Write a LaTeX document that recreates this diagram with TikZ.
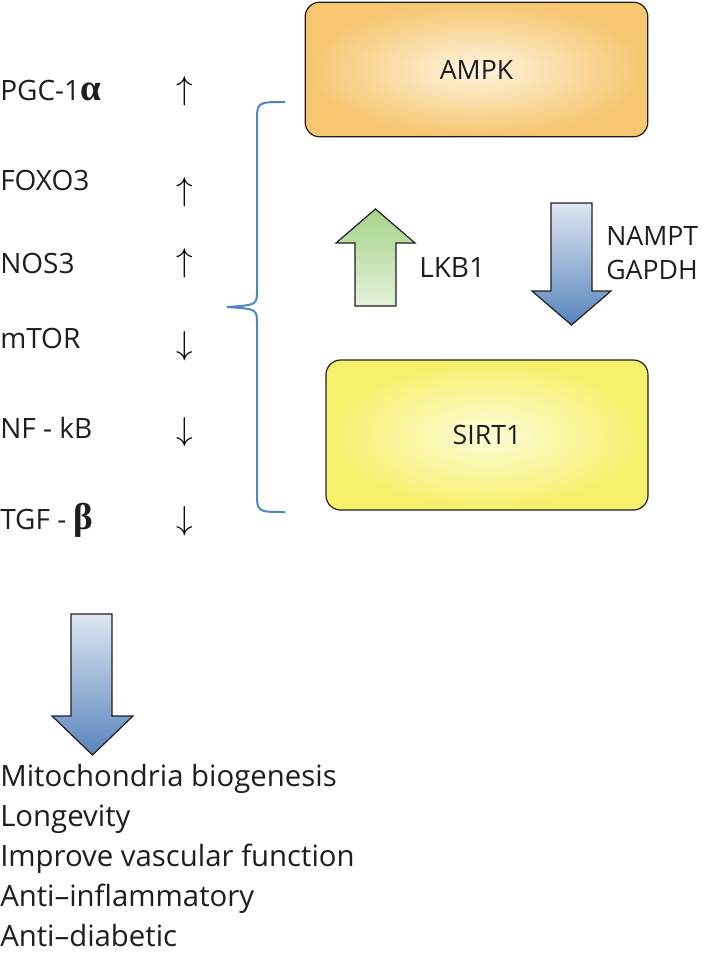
\documentclass[tikz,border=0pt]{standalone}
\usepackage{amsmath}
\usepackage{amssymb}
\usepackage{fontspec}
\setmainfont{Open Sans}
\newfontfamily\greekfont{Liberation Serif}
\usepackage{tikz}

\definecolor{ampkout}{RGB}{246,198,112}
\definecolor{ampkin}{RGB}{254,244,222}
\definecolor{sirtout}{RGB}{247,240,106}
\definecolor{sirtin}{RGB}{253,252,216}
\definecolor{greentop}{RGB}{165,211,138}
\definecolor{greenbot}{RGB}{228,242,216}
\definecolor{bluetop}{RGB}{222,230,241}
\definecolor{bluebot}{RGB}{88,133,188}
\definecolor{bracecol}{RGB}{79,134,198}
\definecolor{textcol}{RGB}{30,30,30}

\newcommand{\grk}[1]{{\greekfont\bfseries\fontsize{28}{30}\selectfont #1}}

\tikzset{
	enzbox/.style={draw={rgb,255:red,30;green,30;blue,30}, line width=0.9pt, rounded corners=11pt, inner sep=0pt, font=\fontsize{20}{24}\selectfont, text=textcol},
	gene/.style={anchor=west, inner sep=0pt, font=\fontsize{21}{25}\selectfont, text=textcol},
	trend/.style={inner sep=0pt, font=\fontsize{29}{32}\selectfont},
	blockarrow/.style={draw={rgb,255:red,30;green,30;blue,30}, line width=0.9pt, line join=miter}
}

\begin{document}
\begin{tikzpicture}[x=0.75pt,y=0.75pt,yscale=-1,xscale=1]
	\useasboundingbox (0,0) rectangle (709,958);
	
	%Shape: Rounded Rectangle [AMPK]
	\node (ampk) [enzbox, inner color=ampkin, outer color=ampkout, minimum width=257pt, minimum height=101pt] at (476.5,69.5) {AMPK};
	%Shape: Rounded Rectangle [SIRT1]
	\node (sirt) [enzbox, inner color=sirtin, outer color=sirtout, minimum width=241.5pt, minimum height=112.5pt] at (487,435) {SIRT1};
	
	%Up Arrow [LKB1]
	\shade [blockarrow, top color=greentop, bottom color=greenbot] (355,306) -- (355,243) -- (336,243) -- (375.5,209) -- (415,243) -- (396,243) -- (396,306) -- cycle ;
	%Down Arrow [NAMPT]
	\shade [blockarrow, top color=bluetop, bottom color=bluebot] (551,203) -- (592,203) -- (592,291) -- (611,291) -- (571.5,325) -- (532,291) -- (551,291) -- cycle ;
	%Down Arrow [outcome]
	\shade [blockarrow, top color=bluetop, bottom color=bluebot] (71,614) -- (112,614) -- (112,716) -- (133,716) -- (92.5,755) -- (52,716) -- (71,716) -- cycle ;
	
	% Text Node
	\node (lkb) [gene] at (419,267) {LKB1};
	% Text Node
	\node (nampt) [gene, align=left, font=\fontsize{20}{25.5}\selectfont] at (606,253) {NAMPT\\GAPDH};
	
	% Text Node
	\node (pgc) [gene] at (0,91) {PGC-1\grk{α}};
	\node (foxo) [gene] at (0,180) {FOXO3};
	\node (nos) [gene] at (0,263) {NOS3};
	\node (mtor) [gene] at (0,338) {mTOR};
	\node (nfkb) [gene] at (0,428) {NF - kB};
	\node (tgf) [gene] at (0,520) {TGF - \grk{β}};
	
	% Text Node
	\node (pgcup) [trend] at (185,91) {$\uparrow$};
	\node (foxoup) [trend] at (185,192) {$\uparrow$};
	\node (nosup) [trend] at (185,263) {$\uparrow$};
	\node (mtordn) [trend] at (185,346) {$\downarrow$};
	\node (nfkbdn) [trend] at (185,432) {$\downarrow$};
	\node (tgfdn) [trend] at (185,521) {$\downarrow$};
	
	%Curly Brace
	\coordinate (bracetop) at (285,102);
	\coordinate (bracetip) at (227,307);
	\coordinate (bracebot) at (285,512);
	\draw [color=bracecol, line width=1.5pt] (bracetop) .. controls (257,102) .. (257,122) -- (257,290) .. controls (257,305) .. (bracetip) .. controls (257,309) .. (257,324) -- (257,492) .. controls (257,512) .. (bracebot) ;
	
	% Text Node
	\node (effects) [anchor=north west, inner sep=0pt, align=left, text=textcol, font=\fontsize{22}{30}\selectfont] at (0,764) {Mitochondria biogenesis\\Longevity\\Improve vascular function\\Anti--inflammatory\\Anti--diabetic};
\end{tikzpicture}
\end{document}
